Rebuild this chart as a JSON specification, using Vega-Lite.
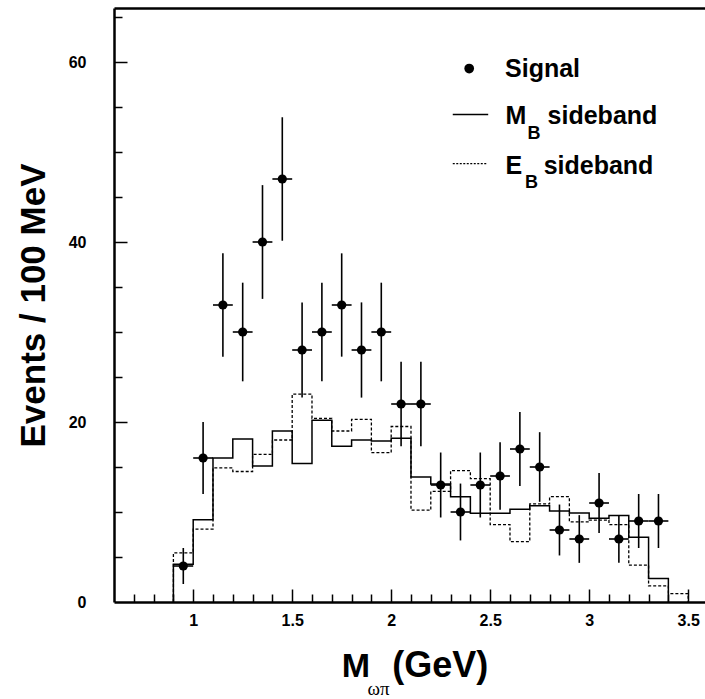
{
  "$schema": "https://vega.github.io/schema/vega-lite/v6.json",
  "width": 591,
  "height": 594,
  "autosize": "none",
  "padding": {"left": 114, "top": 8, "right": 0, "bottom": 97},
  "background": "white",
  "config": {
    "view": {"stroke": null},
    "axis": {
      "grid": false,
      "labelFont": "Liberation Sans",
      "labelFontWeight": "bold",
      "labelFontSize": 16,
      "labelColor": "black",
      "titleFont": "Liberation Sans",
      "titleFontWeight": "bold",
      "titleColor": "black",
      "tickColor": "black",
      "tickWidth": 1.5,
      "domainColor": "black",
      "domainWidth": 2.5
    }
  },
  "datasets": {
    "one": [{}],
    "mb": [
      {"k": 0, "x": 0.9, "y": 0},
      {"k": 1, "x": 0.9, "y": 4.2},
      {"k": 2, "x": 1.0, "y": 9.15},
      {"k": 3, "x": 1.1, "y": 16.0},
      {"k": 4, "x": 1.2, "y": 18.1},
      {"k": 5, "x": 1.3, "y": 15.1},
      {"k": 6, "x": 1.4, "y": 19.0},
      {"k": 7, "x": 1.5, "y": 15.4},
      {"k": 8, "x": 1.6, "y": 20.2},
      {"k": 9, "x": 1.7, "y": 17.3},
      {"k": 10, "x": 1.8, "y": 18.0},
      {"k": 11, "x": 1.9, "y": 17.9},
      {"k": 12, "x": 2.0, "y": 18.2},
      {"k": 13, "x": 2.1, "y": 13.9},
      {"k": 14, "x": 2.2, "y": 13.1},
      {"k": 15, "x": 2.3, "y": 11.7},
      {"k": 16, "x": 2.4, "y": 9.85},
      {"k": 17, "x": 2.5, "y": 9.85},
      {"k": 18, "x": 2.6, "y": 10.3},
      {"k": 19, "x": 2.7, "y": 10.7},
      {"k": 20, "x": 2.8, "y": 10.1},
      {"k": 21, "x": 2.9, "y": 9.9},
      {"k": 22, "x": 3.0, "y": 9.3},
      {"k": 23, "x": 3.1, "y": 9.6},
      {"k": 24, "x": 3.2, "y": 7.2},
      {"k": 25, "x": 3.3, "y": 2.6},
      {"k": 26, "x": 3.4, "y": 0}
    ],
    "eb": [
      {"k": 0, "x": 0.9, "y": 0},
      {"k": 1, "x": 0.9, "y": 5.45},
      {"k": 2, "x": 1.0, "y": 8.1},
      {"k": 3, "x": 1.1, "y": 14.9},
      {"k": 4, "x": 1.2, "y": 14.5},
      {"k": 5, "x": 1.3, "y": 16.4},
      {"k": 6, "x": 1.4, "y": 18.0},
      {"k": 7, "x": 1.5, "y": 23.1},
      {"k": 8, "x": 1.6, "y": 20.4},
      {"k": 9, "x": 1.7, "y": 19.0},
      {"k": 10, "x": 1.8, "y": 20.3},
      {"k": 11, "x": 1.9, "y": 16.6},
      {"k": 12, "x": 2.0, "y": 19.5},
      {"k": 13, "x": 2.1, "y": 10.2},
      {"k": 14, "x": 2.2, "y": 12.3},
      {"k": 15, "x": 2.3, "y": 14.6},
      {"k": 16, "x": 2.4, "y": 13.7},
      {"k": 17, "x": 2.5, "y": 8.6},
      {"k": 18, "x": 2.6, "y": 6.7},
      {"k": 19, "x": 2.7, "y": 10.9},
      {"k": 20, "x": 2.8, "y": 11.7},
      {"k": 21, "x": 2.9, "y": 8.9},
      {"k": 22, "x": 3.0, "y": 9.1},
      {"k": 23, "x": 3.1, "y": 8.6},
      {"k": 24, "x": 3.2, "y": 4.1},
      {"k": 25, "x": 3.3, "y": 1.8},
      {"k": 26, "x": 3.4, "y": 0.93},
      {"k": 27, "x": 3.5, "y": 0}
    ],
    "sig": [
      {"m": 0.95, "n": 4, "lo": 2.0, "hi": 6.0, "xlo": 0.9, "xhi": 1.0},
      {"m": 1.05, "n": 16, "lo": 12.0, "hi": 20.0, "xlo": 1.0, "xhi": 1.1},
      {"m": 1.15, "n": 33, "lo": 27.26, "hi": 38.74, "xlo": 1.1, "xhi": 1.2},
      {"m": 1.25, "n": 30, "lo": 24.52, "hi": 35.48, "xlo": 1.2, "xhi": 1.3},
      {"m": 1.35, "n": 40, "lo": 33.68, "hi": 46.32, "xlo": 1.3, "xhi": 1.4},
      {"m": 1.45, "n": 47, "lo": 40.14, "hi": 53.86, "xlo": 1.4, "xhi": 1.5},
      {"m": 1.55, "n": 28, "lo": 22.71, "hi": 33.29, "xlo": 1.5, "xhi": 1.6},
      {"m": 1.65, "n": 30, "lo": 24.52, "hi": 35.48, "xlo": 1.6, "xhi": 1.7},
      {"m": 1.75, "n": 33, "lo": 27.26, "hi": 38.74, "xlo": 1.7, "xhi": 1.8},
      {"m": 1.85, "n": 28, "lo": 22.71, "hi": 33.29, "xlo": 1.8, "xhi": 1.9},
      {"m": 1.95, "n": 30, "lo": 24.52, "hi": 35.48, "xlo": 1.9, "xhi": 2.0},
      {"m": 2.05, "n": 22, "lo": 17.31, "hi": 26.69, "xlo": 2.0, "xhi": 2.1},
      {"m": 2.15, "n": 22, "lo": 17.31, "hi": 26.69, "xlo": 2.1, "xhi": 2.2},
      {"m": 2.25, "n": 13, "lo": 9.39, "hi": 16.61, "xlo": 2.2, "xhi": 2.3},
      {"m": 2.35, "n": 10, "lo": 6.84, "hi": 13.16, "xlo": 2.3, "xhi": 2.4},
      {"m": 2.45, "n": 13, "lo": 9.39, "hi": 16.61, "xlo": 2.4, "xhi": 2.5},
      {"m": 2.55, "n": 14, "lo": 10.26, "hi": 17.74, "xlo": 2.5, "xhi": 2.6},
      {"m": 2.65, "n": 17, "lo": 12.88, "hi": 21.12, "xlo": 2.6, "xhi": 2.7},
      {"m": 2.75, "n": 15, "lo": 11.13, "hi": 18.87, "xlo": 2.7, "xhi": 2.8},
      {"m": 2.85, "n": 8, "lo": 5.17, "hi": 10.83, "xlo": 2.8, "xhi": 2.9},
      {"m": 2.95, "n": 7, "lo": 4.35, "hi": 9.65, "xlo": 2.9, "xhi": 3.0},
      {"m": 3.05, "n": 11, "lo": 7.68, "hi": 14.32, "xlo": 3.0, "xhi": 3.1},
      {"m": 3.15, "n": 7, "lo": 4.35, "hi": 9.65, "xlo": 3.1, "xhi": 3.2},
      {"m": 3.25, "n": 9, "lo": 6.0, "hi": 12.0, "xlo": 3.2, "xhi": 3.3},
      {"m": 3.35, "n": 9, "lo": 6.0, "hi": 12.0, "xlo": 3.3, "xhi": 3.4}
    ]
  },
  "layer": [
    {
      "data": {"name": "mb"},
      "mark": {"type": "line", "interpolate": "step-after", "stroke": "black", "strokeWidth": 1.5},
      "encoding": {
        "x": {"field": "x", "type": "quantitative", "scale": {"domain": [0.6, 3.585], "nice": false, "zero": false},
          "axis": {"orient": "bottom", "values": [0.7,0.8,0.9,1.1,1.2,1.3,1.4,1.6,1.7,1.8,1.9,2.1,2.2,2.3,2.4,2.6,2.7,2.8,2.9,3.1,3.2,3.3,3.4], "tickSize": 8, "offset": -8, "labels": false, "domain": false, "title": null}},
        "y": {"field": "y", "type": "quantitative", "scale": {"domain": [0, 66], "nice": false},
          "axis": {"orient": "left", "values": [5,10,15,25,30,35,45,50,55,65], "tickSize": 8, "offset": -8, "labels": false, "domain": false, "title": null}},
        "order": {"field": "k"}
      }
    },
    {
      "data": {"name": "eb"},
      "mark": {"type": "line", "interpolate": "step-after", "stroke": "black", "strokeWidth": 1.3, "strokeDash": [3, 2]},
      "encoding": {
        "x": {"field": "x", "type": "quantitative",
          "axis": {"orient": "top", "ticks": false, "labels": false, "domain": true, "title": null}},
        "y": {"field": "y", "type": "quantitative",
          "axis": {"orient": "left", "values": [20, 40, 60], "tickSize": 13, "offset": -13, "labels": false, "domain": false, "title": null}},
        "order": {"field": "k"}
      }
    },
    {
      "data": {"name": "sig"},
      "mark": {"type": "rule", "stroke": "black", "strokeWidth": 1.6},
      "encoding": {
        "x": {"field": "m", "type": "quantitative",
          "axis": {"orient": "bottom", "values": [1, 1.5, 2, 2.5, 3, 3.5], "tickSize": 13, "offset": -13, "labels": false, "domain": false, "title": null}},
        "y": {"field": "lo", "type": "quantitative", "axis": null},
        "y2": {"field": "hi"}
      }
    },
    {
      "data": {"name": "sig"},
      "mark": {"type": "rule", "stroke": "black", "strokeWidth": 1.6},
      "encoding": {
        "x": {"field": "xlo", "type": "quantitative", "axis": null},
        "x2": {"field": "xhi"},
        "y": {"field": "n", "type": "quantitative", "axis": null}
      }
    },
    {
      "data": {"name": "sig"},
      "mark": {"type": "circle", "color": "black", "opacity": 1, "size": 85},
      "encoding": {
        "x": {"field": "m", "type": "quantitative",
          "axis": {"orient": "bottom", "values": [1, 1.5, 2, 2.5, 3, 3.5], "format": "~g", "ticks": false, "tickSize": 0, "labelPadding": 10, "title": null}},
        "y": {"field": "n", "type": "quantitative",
          "axis": {"orient": "left", "values": [0, 20, 40, 60], "format": "d", "ticks": false, "tickSize": 0, "labelPadding": 28, "title": "Events / 100 MeV", "titleFontSize": 35, "titlePadding": 17}}
      }
    },
    {
      "data": {"name": "one"},
      "mark": {"type": "circle", "color": "black", "opacity": 1, "size": 95},
      "encoding": {
        "x": {"datum": 2.394, "type": "quantitative", "axis": null},
        "y": {"datum": 59.27, "type": "quantitative", "axis": null}
      }
    },
    {
      "data": {"name": "one"},
      "mark": {"type": "rule", "stroke": "black", "strokeWidth": 1.5},
      "encoding": {
        "x": {"datum": 2.311, "type": "quantitative", "axis": null},
        "x2": {"datum": 2.49},
        "y": {"datum": 54.16, "type": "quantitative", "axis": null}
      }
    },
    {
      "data": {"name": "one"},
      "mark": {"type": "rule", "stroke": "black", "strokeWidth": 1.3, "strokeDash": [2, 1.5]},
      "encoding": {
        "x": {"datum": 2.311, "type": "quantitative", "axis": null},
        "x2": {"datum": 2.485},
        "y": {"datum": 48.71, "type": "quantitative", "axis": null}
      }
    },
    {
      "data": {"name": "one"},
      "mark": {"type": "text", "font": "Liberation Sans", "fontWeight": "bold", "fontSize": 25, "align": "left", "baseline": "alphabetic", "color": "black"},
      "encoding": {
        "x": {"datum": 2.575, "type": "quantitative", "axis": null},
        "y": {"datum": 58.33, "type": "quantitative", "axis": null},
        "text": {"value": "Signal"}
      }
    },
    {
      "data": {"name": "one"},
      "mark": {"type": "text", "font": "Liberation Sans", "fontWeight": "bold", "fontSize": 25, "align": "left", "baseline": "alphabetic", "color": "black"},
      "encoding": {
        "x": {"datum": 2.578, "type": "quantitative", "axis": null},
        "y": {"datum": 53.08, "type": "quantitative", "axis": null},
        "text": {"value": "M"}
      }
    },
    {
      "data": {"name": "one"},
      "mark": {"type": "text", "font": "Liberation Sans", "fontWeight": "bold", "fontSize": 18, "align": "left", "baseline": "alphabetic", "color": "black"},
      "encoding": {
        "x": {"datum": 2.688, "type": "quantitative", "axis": null},
        "y": {"datum": 51.41, "type": "quantitative", "axis": null},
        "text": {"value": "B"}
      }
    },
    {
      "data": {"name": "one"},
      "mark": {"type": "text", "font": "Liberation Sans", "fontWeight": "bold", "fontSize": 25, "align": "left", "baseline": "alphabetic", "color": "black"},
      "encoding": {
        "x": {"datum": 2.79, "type": "quantitative", "axis": null},
        "y": {"datum": 53.08, "type": "quantitative", "axis": null},
        "text": {"value": "sideband"}
      }
    },
    {
      "data": {"name": "one"},
      "mark": {"type": "text", "font": "Liberation Sans", "fontWeight": "bold", "fontSize": 25, "align": "left", "baseline": "alphabetic", "color": "black"},
      "encoding": {
        "x": {"datum": 2.578, "type": "quantitative", "axis": null},
        "y": {"datum": 47.6, "type": "quantitative", "axis": null},
        "text": {"value": "E"}
      }
    },
    {
      "data": {"name": "one"},
      "mark": {"type": "text", "font": "Liberation Sans", "fontWeight": "bold", "fontSize": 18, "align": "left", "baseline": "alphabetic", "color": "black"},
      "encoding": {
        "x": {"datum": 2.676, "type": "quantitative", "axis": null},
        "y": {"datum": 45.97, "type": "quantitative", "axis": null},
        "text": {"value": "B"}
      }
    },
    {
      "data": {"name": "one"},
      "mark": {"type": "text", "font": "Liberation Sans", "fontWeight": "bold", "fontSize": 25, "align": "left", "baseline": "alphabetic", "color": "black"},
      "encoding": {
        "x": {"datum": 2.77, "type": "quantitative", "axis": null},
        "y": {"datum": 47.6, "type": "quantitative", "axis": null},
        "text": {"value": "sideband"}
      }
    },
    {
      "data": {"name": "one"},
      "mark": {"type": "text", "font": "Liberation Sans", "fontWeight": "bold", "fontSize": 34, "align": "left", "baseline": "alphabetic", "color": "black"},
      "encoding": {
        "x": {"datum": 1.75, "type": "quantitative", "axis": null},
        "y": {"datum": -8.33, "type": "quantitative", "axis": null},
        "text": {"value": "M"}
      }
    },
    {
      "data": {"name": "one"},
      "mark": {"type": "text", "font": "Liberation Serif", "fontSize": 19, "align": "left", "baseline": "alphabetic", "color": "black"},
      "encoding": {
        "x": {"datum": 1.88, "type": "quantitative", "axis": null},
        "y": {"datum": -10.37, "type": "quantitative", "axis": null},
        "text": {"value": "ωπ"}
      }
    },
    {
      "data": {"name": "one"},
      "mark": {"type": "text", "font": "Liberation Sans", "fontWeight": "bold", "fontSize": 36, "align": "left", "baseline": "alphabetic", "color": "black"},
      "encoding": {
        "x": {"datum": 2.005, "type": "quantitative", "axis": null},
        "y": {"datum": -8.33, "type": "quantitative", "axis": null},
        "text": {"value": "(GeV)"}
      }
    }
  ],
  "resolve": {"axis": {"x": "independent", "y": "independent"}}
}
